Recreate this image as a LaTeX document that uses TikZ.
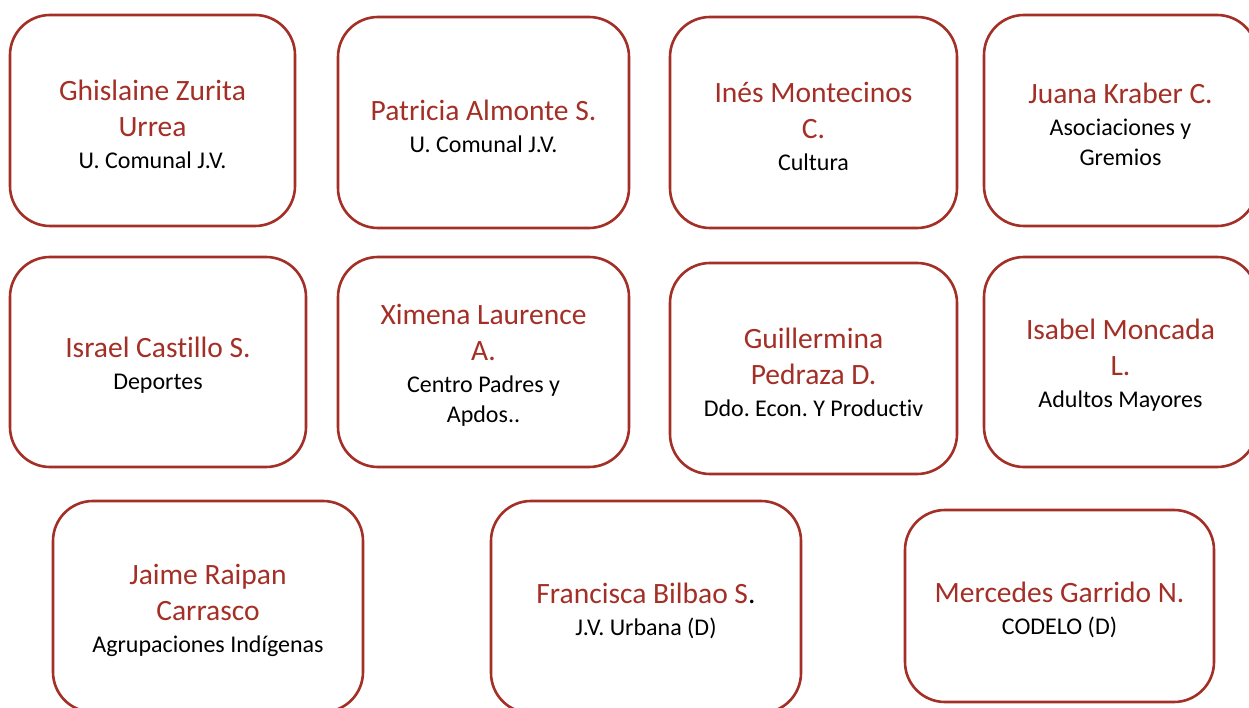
\documentclass[tikz,border=0pt]{standalone}
\usepackage{fontspec}
\setmainfont{Carlito}[Ligatures=NoCommon]
\frenchspacing
\definecolor{boxred}{RGB}{163,47,38}
\newcommand{\rolefont}{\fontsize{24}{30}\selectfont\color{black}}
\tikzset{
  card/.style={draw=boxred, line width=2.6pt, rounded corners=40pt, fill=white, inner sep=0pt},
  cardtext/.style={align=center, text=boxred, font=\fontsize{29.5}{36}\selectfont, inner sep=0pt},
}
\newcommand{\card}[6]{% name, x1, y1, x2, y2, text
  \node[card, minimum width={#4-#2}, minimum height={#5-#3}]
    (#1) at ({(#2+#4)/2},{(#3+#5)/2}) {};
  \node[cardtext] (#1t) at ([yshift=-3.5pt]#1.center) {#6};}
\begin{document}
\begin{tikzpicture}[x=1pt,y=-1pt]
\useasboundingbox (0,0) rectangle (1249,708);
\card{b1}{10}{15}{295}{226}{Ghislaine Zurita\\Urrea\\[-4pt]{\rolefont U. Comunal J.V.}}
\card{b2}{338}{17}{629}{228}{Patricia Almonte S.\\[-4pt]{\rolefont U. Comunal J.V.}}
\card{b3}{670}{17}{957}{228}{Inés Montecinos\\C.\\[-4pt]{\rolefont Cultura}}
\card{b4}{984}{15}{1257}{226}{Juana Kraber C.\\[-4pt]{\rolefont Asociaciones y}\\[-6pt]{\rolefont Gremios}}
\card{b5}{10}{257}{306}{467}{Israel Castillo S.\\[-4pt]{\rolefont Deportes}}
\card{b6}{338}{257}{629}{467}{Ximena Laurence\\A.\\[-4pt]{\rolefont Centro Padres y}\\[-6pt]{\rolefont Apdos..}}
\card{b7}{670}{263}{957}{474}{Guillermina\\Pedraza D.\\[-4pt]{\rolefont Ddo. Econ. Y Productiv}}
\card{b8}{984}{257}{1257}{467}{Isabel Moncada\\L.\\[-4pt]{\rolefont Adultos Mayores}}
\card{b9}{53}{501}{363}{712}{Jaime Raipan\\Carrasco\\[-4pt]{\rolefont Agrupaciones Indígenas}}
\card{b10}{491}{501}{801}{713}{Francisca Bilbao S{\color{black}.}\\[-4pt]{\rolefont J.V. Urbana (D)}}
\card{b11}{905}{510}{1214}{702}{Mercedes Garrido N.\\[-4pt]{\rolefont CODELO (D)}}
\end{tikzpicture}
\end{document}
